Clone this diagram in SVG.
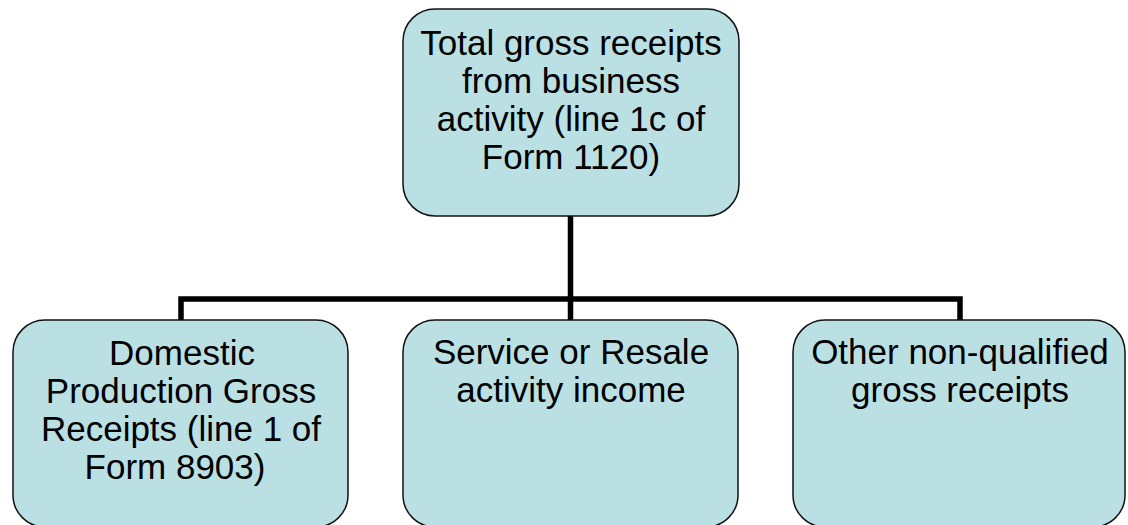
<svg xmlns="http://www.w3.org/2000/svg" width="1128" height="525" viewBox="0 0 1128 525">
<style>
.box{fill:#BBE0E3;stroke:#111;stroke-width:1.5}
.t{font-family:"Liberation Sans",Arial,sans-serif;font-size:35px;fill:#000;text-anchor:middle}
.c{fill:none;stroke:#000;stroke-width:5.5}
</style>
<rect width="1128" height="525" fill="#fff"/>
<g id="connectors">
<path class="c" d="M570.5 216 V299"/>
<path class="c" d="M181 320 V299 H960 V320"/>
<path class="c" d="M570.5 299 V320"/>
</g>
<g id="top">
<rect class="box" x="403" y="9" width="336" height="207" rx="32"/>
<text class="t" x="571" y="55">Total gross receipts</text>
<text class="t" x="571" y="93">from business</text>
<text class="t" x="571" y="131">activity (line 1c of</text>
<text class="t" x="571" y="169">Form 1120)</text>
</g>
<g id="domestic">
<rect class="box" x="13" y="320" width="335" height="207" rx="32"/>
<text class="t" x="182" y="365">Domestic</text>
<text class="t" x="181" y="403">Production Gross</text>
<text class="t" x="181" y="441">Receipts (line 1 of</text>
<text class="t" x="175" y="479">Form 8903)</text>
</g>
<g id="service">
<rect class="box" x="403" y="320" width="335" height="207" rx="32"/>
<text class="t" x="571" y="364">Service or Resale</text>
<text class="t" x="571" y="402">activity income</text>
</g>
<g id="other">
<rect class="box" x="793" y="320" width="332" height="207" rx="32"/>
<text class="t" x="960" y="364">Other non-qualified</text>
<text class="t" x="960" y="402">gross receipts</text>
</g>
</svg>
